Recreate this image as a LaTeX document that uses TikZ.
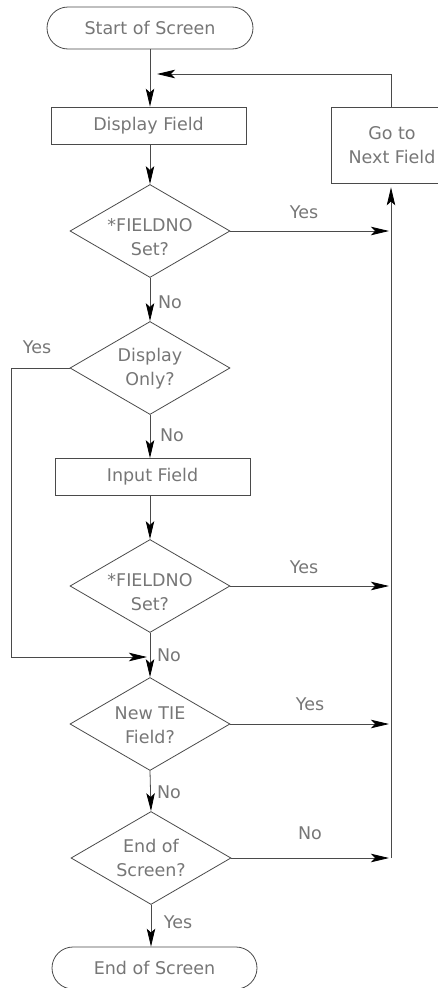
\documentclass[tikz,border=0pt]{standalone}
\usepackage{fontspec}
\setmainfont{DejaVu Sans}
\usetikzlibrary{shapes.geometric,shapes.misc,arrows.meta}
\definecolor{inkline}{HTML}{4A4A4A}
\definecolor{inktext}{HTML}{767676}
\begin{document}
\begin{tikzpicture}[x=1pt,y=-1pt,
  every node/.style={font=\fontsize{17.5}{24}\selectfont, text=inktext},
  outline/.style={draw=inkline, line width=0.8pt, inner sep=0pt},
  box/.style={outline, rectangle, minimum height=37pt},
  term/.style={outline, rounded rectangle, minimum width=206pt, minimum height=42pt},
  dia/.style={outline, diamond, minimum width=160pt, minimum height=93pt},
  dtext/.style={align=center, inner sep=0pt},
  lbl/.style={inner sep=0pt},
  flow/.style={draw=inkline, line width=0.8pt,
    -{Stealth[length=18pt,width=8.5pt,inset=4pt,color=black]}},
  wire/.style={draw=inkline, line width=0.8pt}
]
\useasboundingbox (0,0) rectangle (437,988);

% terminals and process boxes
\node[term] (start) at (150,28) {Start of Screen};
\node[box, minimum width=195pt] (disp) at (148.5,125.5) {Display Field};
\node[box, minimum width=130pt, minimum height=76pt] (next) at (396,145) {};
\node[align=center, inner sep=0pt] (nextt) at (392,145) {Go to\\Next Field};
\node[box, minimum width=195pt] (input) at (152.5,477) {Input Field};
\node[term, minimum width=205pt] (end) at (154.5,968) {End of Screen};

% decisions
\node[dia] (d1) at (150,231) {};
\node[dtext] (d1t) at (150,237) {*FIELDNO\\Set?};
\node[dia] (d2) at (150,368) {};
\node[dtext] (d2t) at (150,369) {Display\\Only?};
\node[dia] (d3) at (150,586) {};
\node[dtext] (d3t) at (150,592) {*FIELDNO\\Set?};
\node[dia] (d4) at (150,724) {};
\node[dtext] (d4t) at (150,725) {New TIE\\Field?};
\node[dia] (d5) at (151,858) {};
\node[dtext] (d5t) at (151,858) {End of\\Screen?};

% branch labels
\node[lbl] (y1) at (304,212) {Yes};
\node[lbl] (n1) at (170,302) {No};
\node[lbl] (y2) at (37,347) {Yes};
\node[lbl] (n2) at (172,435) {No};
\node[lbl] (y3) at (304,567) {Yes};
\node[lbl] (n3) at (169,655) {No};
\node[lbl] (y4) at (310,704) {Yes};
\node[lbl] (n4) at (169,792) {No};
\node[lbl] (n5) at (310,833) {No};
\node[lbl] (y5) at (178,922) {Yes};

% helper points of the return path and the bypass
\coordinate (rbot) at (391,858);
\coordinate (loopend) at (157,74);
\coordinate (lft) at (11,657);
\coordinate (join) at (147,657);

% main column
\draw[flow] (start.south) -- (start.south |- disp.north);
\draw[flow] (d1.north |- disp.south) -- (d1.north);
\draw[flow] (d1.south) -- (d2.north);
\draw[flow] (d2.south) -- (d2.south |- input.north);
\draw[flow] (d2.south |- input.south) -- (d3.north);
\draw[flow] (d3.south) -- (d4.north);
\draw[flow] (d4.south) -- (d5.north);
\draw[flow] (d5.south) -- (d5.south |- end.north);

% exits to the return line
\draw[flow, shorten >=2pt] (d1.east) -- (d1.east -| rbot);
\draw[flow, shorten >=2pt] (d3.east) -- (d3.east -| rbot);
\draw[flow, shorten >=2pt] (d4.east) -- (d4.east -| rbot);
\draw[flow, shorten >=2pt] (d5.east) -- (rbot);

% return line up to the next-field box and back to the top
\draw[flow, shorten >=4pt] (rbot) -- (next.south -| rbot);
\draw[flow] (next.north -| rbot) |- (loopend);

% display-only bypass
\draw[wire] (d2.west) -| (lft);
\draw[flow] (lft) -- (join);
\end{tikzpicture}
\end{document}
